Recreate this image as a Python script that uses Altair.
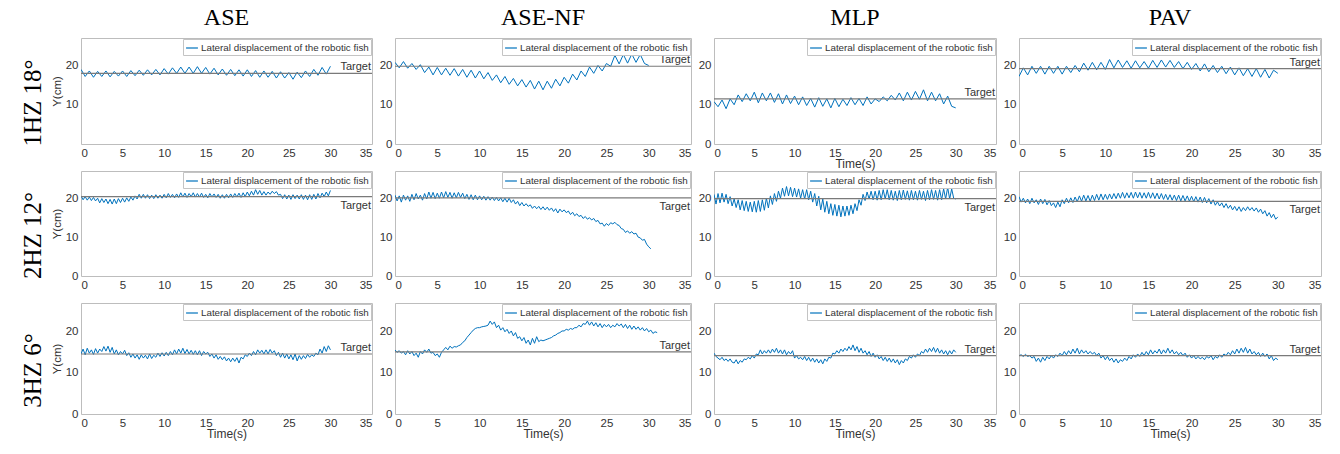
import altair as alt
import pandas as pd

SANS = "Liberation Sans"
SERIF = "Liberation Serif"
BLUE = "#0072BD"
LEG_BLUE = "#4d9ed8"
GRAY = "#7a7a7a"
TXT = "#333333"
LEGEND_LABEL = "Lateral displacement of the robotic fish"

COLS = ["ASE", "ASE-NF", "MLP", "PAV"]
ROWS = ["1HZ 18°", "2HZ 12°", "3HZ 6°"]
DT = [0.5, 0.25, 0.25]
X_TICKS = [0, 5, 10, 15, 20, 25, 30, 35]
X_DOMAIN = [0, 35]
Y_DOMAIN = [0, 27]
TARGETS = [
    [18.0, 19.8, 11.5, 19.2],
    [20.4, 20.1, 19.9, 19.2],
    [14.6, 15.1, 14.2, 14.2],
]
TARGET_ABOVE = [True, False, True]
WIDTHS = [291, 296, 282, 302]
HEIGHTS = [106, 105, 111]

# ---- 1 Hz, 18 deg (sampled every 0.5 s) ----
ase_1 = [19.0, 17.2, 18.6, 17.0, 18.5, 17.2, 18.6, 17.1, 18.5, 17.3, 18.6, 17.2, 18.7, 17.4, 18.8, 17.5,
         18.9, 17.6, 19.0, 17.6, 19.2, 17.8, 19.4, 18.0, 19.6, 18.0, 19.6, 18.0, 19.7, 18.0, 19.5, 17.8,
         19.3, 17.6, 19.1, 17.5, 19.0, 17.4, 18.9, 17.3, 18.9, 17.2, 18.7, 17.0, 18.6, 17.0, 18.5, 16.8,
         18.4, 16.8, 18.2, 16.5, 18.3, 16.9, 18.6, 17.2, 19.0, 17.5, 19.5, 17.8, 19.8]
asenf_1 = [20.8, 19.4, 21.0, 19.3, 20.5, 19.0, 20.2, 18.2, 19.6, 17.6, 19.5, 17.6, 19.3, 17.5, 19.2, 17.3,
           19.0, 17.0, 18.8, 16.8, 18.6, 16.6, 18.2, 16.2, 17.6, 15.6, 17.2, 15.2, 16.7, 14.8, 16.4, 14.5,
           16.2, 14.0, 16.0, 13.8, 16.0, 14.2, 16.5, 14.8, 17.0, 15.5, 17.8, 16.3, 18.6, 17.2, 19.6, 18.0,
           20.0, 18.6, 20.5, 19.8, 22.6, 20.4, 22.8, 20.6, 22.9, 20.8, 22.8, 20.5, 20.0]
mlp_1 = [10.8, 9.5, 11.2, 9.0, 11.5, 10.0, 12.5, 10.8, 12.8, 11.0, 13.2, 10.5, 13.0, 11.0, 13.0, 10.6,
         12.8, 10.2, 12.5, 10.3, 12.2, 10.0, 12.0, 9.8, 11.6, 9.4, 11.8, 9.6, 11.5, 9.2, 11.6, 9.5,
         11.4, 9.8, 11.8, 10.0, 11.6, 9.8, 12.0, 10.2, 11.5, 10.8, 12.0, 11.0, 12.4, 11.2, 13.0, 11.0,
         13.2, 11.2, 13.4, 11.4, 13.8, 11.0, 13.2, 11.0, 12.8, 10.2, 12.2, 9.6, 9.2]
pav_1 = [17.2, 19.4, 17.6, 19.8, 18.0, 19.8, 17.8, 19.8, 18.0, 19.8, 17.8, 19.8, 18.2, 20.0, 18.4, 20.6,
         18.8, 20.8, 18.9, 20.8, 19.0, 21.5, 19.4, 21.4, 19.5, 21.2, 19.3, 21.2, 19.4, 21.0, 19.3, 21.3,
         19.5, 21.4, 19.6, 21.3, 19.5, 21.0, 19.2, 20.8, 19.0, 20.5, 18.6, 20.4, 18.4, 20.0, 18.2, 19.8,
         17.9, 19.6, 17.6, 19.4, 17.4, 19.2, 17.2, 19.2, 17.0, 19.0, 16.8, 18.8, 18.0]

# ---- 2 Hz, 12 deg (sampled every 0.25 s) ----
ase_2 = [20.6, 19.6, 20.4, 19.5, 20.3, 19.4, 20.2, 19.3,
         20.0, 18.8, 19.9, 18.9, 19.8, 18.6, 19.7, 18.5,
         19.8, 18.6, 19.9, 18.9, 20.0, 19.0, 20.1, 19.2,
         20.3, 19.5, 20.6, 19.8, 21.0, 20.0, 21.0, 20.0,
         20.9, 19.9, 20.8, 19.9, 20.9, 20.0, 20.8, 20.0,
         21.0, 20.1, 21.2, 20.2, 21.0, 20.1, 21.1, 20.2,
         21.4, 20.3, 21.3, 20.2, 21.2, 20.4, 21.4, 20.3,
         21.2, 20.3, 21.3, 20.2, 21.0, 20.1, 21.2, 20.3,
         21.1, 20.2, 21.0, 20.0, 20.9, 20.0, 21.0, 20.1,
         21.1, 20.2, 21.2, 20.3, 21.3, 20.2, 21.4, 20.4,
         21.6, 20.6, 21.8, 20.8, 22.2, 21.0, 22.0, 20.8,
         21.7, 20.8, 21.6, 21.0, 21.8, 21.2, 21.7, 20.8,
         21.0, 19.9, 20.9, 19.8, 20.8, 19.7, 20.9, 19.9,
         20.8, 19.8, 20.9, 19.7, 20.8, 19.6, 20.9, 19.7,
         21.0, 19.8, 21.2, 20.1, 21.3, 20.4, 21.6, 20.6,
         22.0]
asenf_2 = [20.8, 19.3, 20.6, 19.0, 20.8, 19.5, 20.6, 19.2,
           21.0, 19.6, 21.2, 19.8, 20.8, 19.5, 21.2, 19.8,
           21.6, 20.0, 21.5, 19.9, 21.3, 20.0, 21.6, 20.1,
           21.7, 20.2, 21.5, 20.0, 21.4, 20.1, 21.5, 20.2,
           21.3, 19.9, 21.0, 19.7, 20.9, 19.6, 20.8, 19.6,
           20.6, 19.6, 20.5, 19.5, 20.4, 19.5, 20.3, 19.4,
           20.2, 19.3, 20.1, 19.1, 20.0, 19.0, 20.0, 18.9,
           19.6, 18.5, 19.2, 18.1, 18.9, 18.0, 18.6, 17.9,
           18.3, 17.4, 18.0, 17.3, 17.9, 17.1, 17.8, 17.0,
           17.7, 16.9, 17.5, 16.6, 17.3, 16.2, 17.2, 16.5,
           17.0, 16.3, 16.7, 15.8, 16.4, 15.5, 16.0, 15.3,
           15.6, 14.8, 15.3, 14.6, 15.0, 14.4, 14.8, 14.0,
           14.3, 13.4, 13.6, 12.8, 13.5, 13.0, 13.7, 13.4,
           13.8, 13.2, 13.0, 12.2, 12.0, 11.2, 11.6, 11.0,
           11.4, 10.8, 11.0, 10.0, 9.8, 9.2, 9.4, 8.2,
           7.5, 7.0]
mlp_2 = [21.0, 18.5, 21.2, 18.8, 21.3, 19.0, 21.0, 18.6,
         20.4, 18.0, 19.8, 17.6, 19.6, 17.0, 19.4, 16.8,
         19.2, 16.6, 19.0, 16.5, 19.2, 16.4, 19.4, 16.6,
         19.6, 16.9, 20.0, 17.5, 20.6, 18.4, 21.2, 19.2,
         21.8, 20.0, 22.6, 20.5, 23.0, 20.6, 22.8, 20.4,
         22.6, 20.3, 22.4, 20.0, 22.2, 19.8, 22.2, 19.6,
         21.8, 19.0, 21.2, 18.0, 20.5, 17.0, 19.8, 16.4,
         19.2, 16.0, 18.6, 15.6, 18.4, 15.4, 18.2, 15.2,
         18.0, 15.4, 18.0, 15.6, 18.2, 16.0, 18.6, 16.8,
         19.6, 18.2, 21.0, 19.4, 21.6, 19.8, 21.8, 19.6,
         21.8, 19.5, 22.0, 19.6, 22.2, 19.8, 22.2, 19.6,
         22.0, 19.5, 21.8, 19.4, 22.0, 19.6, 22.1, 19.7,
         21.9, 19.5, 22.0, 19.6, 21.8, 19.5, 22.0, 19.7,
         21.8, 19.4, 22.0, 19.6, 22.2, 19.7, 22.0, 19.5,
         22.2, 19.6, 22.4, 19.8, 22.8, 19.8, 22.4, 20.0,
         19.8]
pav_2 = [20.4, 19.0, 20.0, 18.8, 19.8, 18.6, 20.0, 18.8,
         19.6, 18.4, 19.8, 18.6, 19.7, 18.3, 19.4, 18.1,
         18.8, 17.6, 19.0, 17.8, 19.6, 18.6, 20.0, 18.8,
         20.1, 18.9, 20.3, 19.1, 20.6, 19.2, 20.8, 19.3,
         20.7, 19.2, 20.8, 19.4, 21.0, 19.5, 21.1, 19.6,
         21.0, 19.7, 21.1, 19.8, 21.2, 19.9, 21.3, 20.0,
         21.5, 20.0, 21.4, 20.1, 21.5, 20.0, 21.6, 20.1,
         21.5, 20.0, 21.4, 20.0, 21.5, 20.0, 21.4, 19.9,
         21.3, 19.8, 21.2, 19.7, 21.0, 19.6, 20.9, 19.5,
         20.8, 19.4, 20.8, 19.3, 20.7, 19.3, 20.6, 19.2,
         20.5, 19.1, 20.4, 19.0, 20.3, 18.9, 20.2, 18.8,
         19.9, 18.5, 19.6, 18.2, 19.1, 18.0, 18.8, 17.6,
         18.6, 17.4, 18.2, 17.0, 17.9, 16.8, 17.8, 16.6,
         17.6, 16.8, 17.8, 16.9, 17.6, 16.7, 17.5, 16.4,
         17.2, 16.0, 16.8, 15.4, 16.3, 15.0, 15.9, 14.6,
         15.2]

# ---- 3 Hz, 6 deg (sampled every 0.25 s) ----
ase_3 = [14.6, 15.8, 14.4, 16.0, 14.8, 15.6, 14.5, 15.9,
         14.8, 15.8, 15.2, 16.4, 15.3, 16.5, 15.0, 16.2,
         14.6, 15.6, 14.4, 15.2, 14.6, 15.5, 14.2, 14.9,
         13.8, 14.6, 13.6, 14.4, 13.3, 14.4, 13.6, 14.3,
         13.4, 14.6, 13.5, 14.3, 13.8, 14.8, 14.0, 14.9,
         14.1, 15.0, 14.2, 15.2, 14.4, 15.6, 14.6, 15.8,
         14.8, 16.0, 14.7, 15.7, 14.6, 15.5, 14.5, 15.4,
         14.4, 15.4, 14.2, 15.2, 14.6, 15.0, 14.0, 14.6,
         13.6, 14.4, 13.3, 14.0, 13.2, 13.9, 12.9, 13.6,
         12.7, 13.6, 12.8, 13.7, 12.4, 13.8, 13.4, 14.4,
         14.0, 14.8, 14.2, 15.2, 14.4, 15.6, 14.8, 15.5,
         14.6, 15.6, 14.6, 15.7, 14.8, 15.4, 14.2, 15.0,
         13.8, 14.8, 13.6, 14.6, 13.4, 14.4, 13.2, 14.6,
         12.9, 14.2, 13.3, 14.2, 13.5, 14.5, 13.8, 14.4,
         14.0, 14.8, 14.4, 15.8, 14.8, 16.4, 15.2, 16.6,
         15.6]
asenf_3 = [15.6, 15.0, 15.4, 14.8, 15.2, 14.4, 15.4, 14.6,
           15.2, 14.2, 14.8, 13.8, 15.2, 14.6, 15.6, 15.0,
           15.8, 14.8, 15.0, 14.2, 14.6, 13.8, 15.0, 15.6,
           16.2, 15.6, 16.5, 16.0, 16.4, 16.3, 16.6, 16.8,
           17.4, 17.8, 18.6, 19.2, 19.8, 20.4, 20.8, 21.0,
           21.0, 21.2, 21.3, 21.4, 21.6, 22.6, 21.8, 22.4,
           21.0, 21.6, 20.4, 21.0, 20.0, 20.6, 19.6, 20.2,
           19.0, 19.8, 18.4, 18.8, 17.8, 18.6, 17.2, 18.0,
           16.8, 18.4, 17.2, 18.8, 17.6, 18.0, 17.8, 18.0,
           18.2, 18.4, 18.6, 19.0, 19.2, 19.6, 19.8, 20.2,
           20.2, 20.6, 20.4, 20.8, 20.6, 21.0, 21.0, 21.6,
           21.2, 22.0, 21.8, 22.6, 21.6, 22.4, 21.4, 22.2,
           21.2, 22.0, 21.0, 21.8, 21.2, 21.8, 21.0, 21.6,
           21.2, 22.0, 21.4, 21.9, 21.0, 21.8, 20.8, 21.6,
           20.6, 21.4, 20.6, 21.2, 20.4, 21.0, 20.2, 20.8,
           20.0, 20.4, 19.6, 20.0, 19.8]
mlp_3 = [14.8, 14.0, 13.6, 13.2, 13.8, 13.0, 13.4, 12.8,
         13.4, 12.6, 12.4, 13.2, 12.2, 13.0, 12.6, 13.4,
         13.2, 13.8, 13.4, 14.2, 13.6, 14.6, 14.4, 15.6,
         14.6, 15.4, 14.8, 15.6, 14.8, 15.8, 15.0, 16.0,
         14.8, 15.6, 14.6, 15.6, 14.4, 15.2, 14.6, 15.4,
         13.6, 14.2, 13.4, 13.8, 13.2, 14.0, 13.0, 13.8,
         12.8, 13.6, 12.6, 13.4, 12.4, 13.2, 12.2, 13.4,
         12.8, 13.8, 13.6, 14.8, 14.6, 15.4, 14.8, 15.8,
         15.2, 16.0, 15.4, 16.4, 15.6, 16.8, 15.4, 16.4,
         15.0, 16.0, 14.8, 15.4, 14.4, 15.2, 14.0, 14.8,
         13.8, 14.4, 13.4, 14.0, 13.0, 13.8, 12.8, 13.6,
         12.6, 13.4, 12.4, 13.2, 12.0, 13.0, 12.4, 13.4,
         13.0, 14.0, 13.6, 14.4, 13.8, 14.6, 14.2, 15.2,
         14.8, 15.8, 15.0, 16.0, 15.2, 16.2, 15.0, 16.0,
         14.8, 15.6, 14.6, 15.4, 14.4, 15.4, 14.6, 15.6,
         15.0]
pav_3 = [14.2, 14.4, 14.0, 14.5, 14.0, 14.2, 13.6, 14.0,
         12.8, 13.6, 12.6, 13.8, 13.0, 14.0, 13.4, 14.2,
         13.6, 14.4, 14.0, 14.8, 14.2, 15.2, 14.4, 15.4,
         14.6, 15.8, 14.8, 16.0, 14.6, 15.6, 14.8, 15.4,
         14.6, 15.2, 14.6, 15.0, 14.2, 14.8, 13.6, 14.2,
         13.2, 14.0, 13.0, 13.6, 12.6, 13.4, 12.4, 13.2,
         12.8, 13.6, 13.0, 14.0, 13.4, 14.4, 13.8, 14.6,
         14.0, 15.0, 14.2, 15.2, 14.4, 15.6, 14.6, 15.4,
         14.8, 15.8, 14.6, 15.6, 14.8, 16.0, 14.8, 15.6,
         14.6, 15.2, 14.4, 15.0, 14.2, 14.8, 13.8, 14.4,
         13.6, 14.2, 13.4, 14.0, 13.4, 13.8, 13.2, 14.0,
         13.6, 14.2, 13.2, 14.0, 13.6, 14.4, 13.8, 14.6,
         14.2, 15.0, 14.4, 15.4, 14.6, 15.8, 14.8, 16.0,
         15.0, 16.2, 14.8, 15.8, 14.6, 15.2, 14.4, 15.0,
         14.0, 14.8, 14.0, 14.6, 13.4, 14.2, 13.0, 13.6,
         13.2]

SERIES = [
    [ase_1, asenf_1, mlp_1, pav_1],
    [ase_2, asenf_2, mlp_2, pav_2],
    [ase_3, asenf_3, mlp_3, pav_3],
]


def make_panel(r, c):
    vals = SERIES[r][c]
    dt = DT[r]
    df = pd.DataFrame({"t": [i * dt for i in range(len(vals))], "y": vals, "s": LEGEND_LABEL})
    show_xtitle = (r == 2) or (r == 0 and c == 2)
    x_axis = alt.Axis(values=X_TICKS, title="Time(s)" if show_xtitle else None,
                      titlePadding=0, titleFontSize=12)
    y_vals = [10, 20] if (r == 0 and c == 0) else [0, 10, 20]
    y_axis = alt.Axis(values=y_vals, title="Y(cm)" if c == 0 else None,
                      titlePadding=3, titleFontSize=11.5)
    x_enc = alt.X("t:Q", scale=alt.Scale(domain=X_DOMAIN, nice=False), axis=x_axis)
    y_enc = alt.Y("y:Q", scale=alt.Scale(domain=Y_DOMAIN, nice=False), axis=y_axis)

    line = alt.Chart(df).mark_line(strokeWidth=1, clip=True).encode(
        x=x_enc,
        y=y_enc,
        color=alt.Color("s:N", scale=alt.Scale(range=[BLUE]),
                        legend=alt.Legend(title=None, orient="top-right", offset=1, padding=2,
                                          strokeColor="#c4c4c4", fillColor="white",
                                          symbolType="stroke", symbolSize=140, symbolStrokeWidth=1.2,
                                          symbolStrokeColor=LEG_BLUE,
                                          labelFont=SANS, labelFontSize=9.8, labelColor=TXT,
                                          labelLimit=400, labelOffset=2)),
    )
    tgt = TARGETS[r][c]
    tdf = pd.DataFrame({"t": [35], "y": [tgt], "label": ["Target"]})
    rule = alt.Chart(tdf).mark_rule(color=GRAY, strokeWidth=1.2).encode(y=y_enc)
    above = TARGET_ABOVE[r]
    text = alt.Chart(tdf).mark_text(
        align="right", baseline="bottom" if above else "top", dx=-1, dy=-1 if above else 3,
        font=SANS, fontSize=11, color=TXT,
    ).encode(x=x_enc, y=y_enc, text="label:N")
    layer = alt.layer(line, rule, text).properties(width=WIDTHS[c], height=HEIGHTS[r])
    if r == 0:
        layer = layer.properties(title=alt.TitleParams(COLS[c], font=SERIF, fontSize=24,
                                                       fontWeight="normal", color="black", offset=8))
    return layer


def make_label(r):
    ldf = pd.DataFrame({"label": [ROWS[r]]})
    return alt.Chart(ldf).mark_text(
        angle=270, font=SERIF, fontSize=25, color="black", align="center", baseline="middle",
    ).encode(
        text="label:N", x=alt.value(15), y=alt.value(HEIGHTS[r] / 2 + 12)
    ).properties(width=40, height=HEIGHTS[r], view=alt.ViewBackground(stroke="transparent"))


cells = []
for r in range(3):
    cells.append(make_label(r))
    for c in range(4):
        cells.append(make_panel(r, c))

chart = alt.concat(*cells, columns=5, spacing={"row": 27, "column": 23}, bounds="flush").resolve_scale(
    color="independent"
).resolve_legend(color="independent").properties(
    padding={"left": 17, "top": 5, "right": 5, "bottom": 3}
).configure_view(stroke="#bdbdbd", strokeWidth=1).configure_axis(
    labelFont=SANS, labelFontSize=11.5, labelColor=TXT, tickSize=0, domain=False, grid=False,
    labelPadding=3, titleFont=SANS, titleFontWeight="normal", titleColor=TXT,
)

chart.save("out.html", embed_options={"renderer": "svg", "actions": False})
